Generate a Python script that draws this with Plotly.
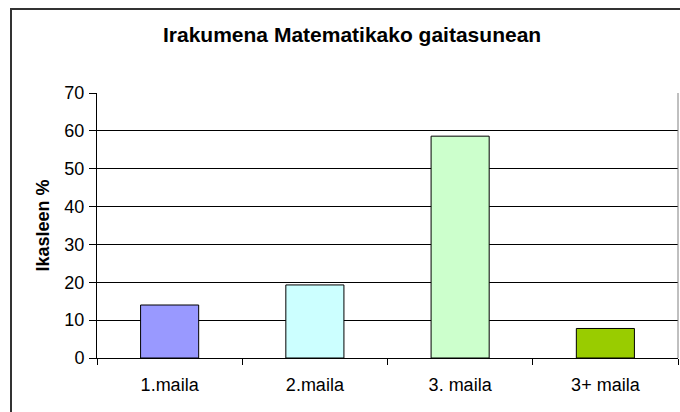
import plotly.graph_objects as go

categories = ["1.maila", "2.maila", "3. maila", "3+ maila"]
values = [14.0, 19.3, 58.6, 7.8]
bar_colors = ["#9999FF", "#CCFFFF", "#CCFFCC", "#99CC00"]
y_ticks = [0, 10, 20, 30, 40, 50, 60, 70]

W, H = 680, 412
L, R, T, B = 97, 2, 93, 54
pw, ph = W - L - R, H - T - B

def px_x(x):
    return (x - L) / pw

def px_y(y):
    return (H - B - y) / ph

fig = go.Figure(
    go.Bar(
        x=categories,
        y=values,
        marker=dict(color=bar_colors, line=dict(color="black", width=1)),
        showlegend=False,
    )
)

font = "Liberation Sans, Arial, sans-serif"
frame = dict(color="#333333", width=2)

fig.update_layout(
    width=W,
    height=H,
    margin=dict(l=L, r=R, t=T, b=B),
    paper_bgcolor="white",
    plot_bgcolor="white",
    bargap=0.6,
    font=dict(family=font, size=18, color="black"),
    xaxis=dict(
        type="category",
        tickson="boundaries",
        ticks="outside",
        ticklen=6,
        tickcolor="black",
        showgrid=False,
        showline=True,
        linecolor="black",
        linewidth=1,
        tickfont=dict(size=18),
        ticklabelstandoff=10,
    ),
    yaxis=dict(
        range=[0, 70],
        tickvals=y_ticks,
        ticks="outside",
        ticklen=7,
        tickcolor="black",
        showgrid=True,
        gridcolor="black",
        gridwidth=1,
        showline=True,
        linecolor="black",
        linewidth=1,
        zeroline=False,
        tickfont=dict(size=18),
        ticklabelstandoff=1,
        title=dict(text="<b>Ikasleen %</b>", font=dict(size=18), standoff=10),
    ),
    annotations=[
        dict(
            text="<b>Irakumena Matematikako gaitasunean</b>",
            xref="paper", yref="paper",
            x=px_x(352), y=px_y(34),
            xanchor="center", yanchor="middle",
            showarrow=False,
            font=dict(size=21, family=font, color="black"),
        )
    ],
    shapes=[
        dict(type="line", xref="paper", yref="paper", x0=1, x1=1, y0=0, y1=1,
             line=dict(color="#808080", width=1)),
        dict(type="line", xref="paper", yref="paper",
             x0=px_x(11), x1=px_x(11), y0=px_y(420), y1=px_y(8), line=frame),
        dict(type="line", xref="paper", yref="paper",
             x0=px_x(10), x1=px_x(690), y0=px_y(9), y1=px_y(9), line=frame),
    ],
)

fig.write_html(
    "out.html",
    config={"displayModeBar": False},
    post_script="document.body.style.margin='0';document.body.style.overflow='hidden';",
)
